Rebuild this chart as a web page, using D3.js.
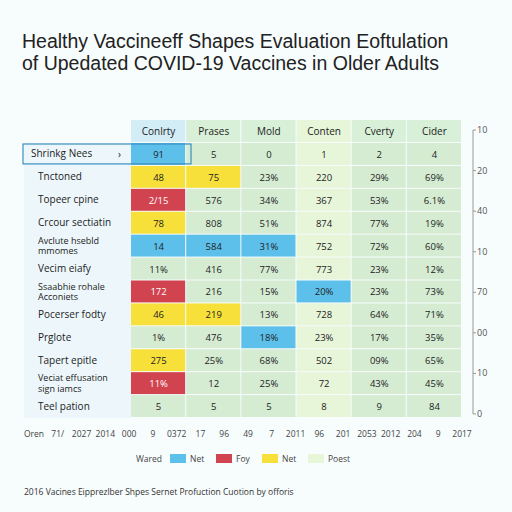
<!DOCTYPE html>
<html>
<head>
<meta charset="utf-8">
<style>
  body { margin: 0; background: #f7fcfd; }
  text { font-family: "Open Sans", "Noto Sans", sans-serif; fill: #222; }
</style>
</head>
<body>
<script src="https://d3js.org/d3.v7.min.js"></script>
<script>
// columns and rows as they appear in the picture
const columns = ["Conlrty", "Prases", "Mold", "Conten", "Cverty", "Cider"];
const rows = ["Shrinkg Nees", "Tnctoned", "Topeer cpine", "Crcour sectiatin", "Avclute hsebld|mmomes",
  "Vecim eiafy", "Ssaabhie rohale|Acconiets", "Pocerser fodty", "Prglote", "Tapert epitle",
  "Veciat effusation|sign iamcs", "Teel pation"];
const values = [
  ["91", "5", "0", "1", "2", "4"],
  ["48", "75", "23%", "220", "29%", "69%"],
  ["2/15", "576", "34%", "367", "53%", "6.1%"],
  ["78", "808", "51%", "874", "77%", "19%"],
  ["14", "584", "31%", "752", "72%", "60%"],
  ["11%", "416", "77%", "773", "23%", "12%"],
  ["172", "216", "15%", "20%", "23%", "73%"],
  ["46", "219", "13%", "728", "64%", "71%"],
  ["1%", "476", "18%", "23%", "17%", "35%"],
  ["275", "25%", "68%", "502", "09%", "65%"],
  ["11%", "12", "25%", "72", "43%", "45%"],
  ["5", "5", "5", "8", "9", "84"]
];
// highlight category per cell: b blue, r red, y yellow, g plain
const highlights = [
  "bggggg", "yygggg", "rggggg", "yggggg", "bbbggg", "gggggg",
  "rggbgg", "yygggg", "ggbggg", "yggggg", "rggggg", "gggggg"
];
const rightTicks = ["10", "20", "40", "10", "70", "00", "10", "0"];
const bottomLabels = ["Oren", "71/", "2027", "2014", "000", "9", "0372", "17", "96", "49", "7",
  "2011", "96", "201", "2053", "2012", "204", "9", "2017"];
const legendItems = [["b", "Net"], ["r", "Foy"], ["y", "Net"], ["l", "Poest"]];

const colors = { b: "#5cc0ea", r: "#d1434f", y: "#f8e03b", g: "#d5ecd3", l: "#e7f5d9" };

const svg = d3.select("body").append("svg").attr("width", 512).attr("height", 512);

svg.append("text").attr("x", 22).attr("y", 48).attr("font-size", 19.5)
  .style("font-family", "'Liberation Sans', Arial, sans-serif")
  .text("Healthy Vaccineeff Shapes Evaluation Eoftulation");
svg.append("text").attr("x", 22).attr("y", 70).attr("font-size", 19.5)
  .style("font-family", "'Liberation Sans', Arial, sans-serif")
  .text("of Upedated COVID-19 Vaccines in Older Adults");

const x = d3.scaleBand().domain(columns).range([131, 462]);
const y = d3.scaleBand().domain(d3.range(rows.length)).range([143, 418]);

// label column background
svg.append("rect").attr("x", 24).attr("y", 143).attr("width", 107).attr("height", 275).attr("fill", "#edf7fb");

// header
svg.selectAll(".hd").data(columns).join("rect")
  .attr("x", d => x(d)).attr("y", 120).attr("width", x.bandwidth() - 1).attr("height", 22)
  .attr("fill", (d, i) => i === 0 ? "#d3edf7" : (i === 3 ? "#e7f5d9" : "#d8efd8"));
svg.selectAll(".ht").data(columns).join("text")
  .attr("x", d => x(d) + x.bandwidth() / 2).attr("y", 135).attr("text-anchor", "middle")
  .attr("font-size", 10).text(d => d);

// cells
rows.forEach((r, ri) => {
  columns.forEach((c, ci) => {
    const h = highlights[ri][ci];
    const fill = h === "g" ? (ci === 3 ? colors.l : colors.g) : colors[h];
    svg.append("rect").attr("x", x(c)).attr("y", y(ri)).attr("width", x.bandwidth() - 1)
      .attr("height", y.bandwidth() - 1).attr("fill", fill);
    svg.append("text").attr("x", x(c) + x.bandwidth() / 2).attr("y", y(ri) + y.bandwidth() / 2 + 3.5)
      .attr("text-anchor", "middle").attr("font-size", 9.5)
      .style("fill", h === "r" ? "#fff" : "#222").text(values[ri][ci]);
  });
  const parts = r.split("|");
  parts.forEach((p, pi) => {
    svg.append("text").attr("x", ri === 0 ? 31 : 38)
      .attr("y", y(ri) + y.bandwidth() / 2 + 3 + (pi - (parts.length - 1) / 2) * 10.5)
      .attr("font-size", parts.length > 1 ? 9 : 10).text(p);
  });
});
svg.append("text").attr("x", 118).attr("y", y(0) + y.bandwidth() / 2 + 3.5).attr("font-size", 10).text("›");
svg.append("rect").attr("x", 23).attr("y", y(0) + 1).attr("width", 168).attr("height", y.bandwidth() - 3)
  .attr("fill", "none").attr("stroke", "#3a8fc0").attr("stroke-width", 1.2);

// right axis
const ry = d3.scalePoint().domain(d3.range(rightTicks.length)).range([130, 414]);
svg.append("line").attr("x1", 473).attr("x2", 473).attr("y1", 130).attr("y2", 414).attr("stroke", "#999");
rightTicks.forEach((t, i) => {
  svg.append("line").attr("x1", 473).attr("x2", 476).attr("y1", ry(i)).attr("y2", ry(i)).attr("stroke", "#999");
  svg.append("text").attr("x", 477).attr("y", ry(i) + 3).attr("font-size", 9).style("fill", "#555").text(t);
});

// bottom labels
const bx = d3.scalePoint().domain(d3.range(bottomLabels.length)).range([34, 462]);
svg.selectAll(".bl").data(bottomLabels).join("text")
  .attr("x", (d, i) => bx(i)).attr("y", 437).attr("text-anchor", "middle")
  .attr("font-size", 8.5).style("fill", "#444").text(d => d);

// legend
svg.append("text").attr("x", 136).attr("y", 462).attr("font-size", 8.5).style("fill", "#444").text("Wared");
const lx = d3.scalePoint().domain(d3.range(legendItems.length)).range([170, 308]);
legendItems.forEach((d, i) => {
  svg.append("rect").attr("x", lx(i)).attr("y", 454).attr("width", 16).attr("height", 9).attr("fill", colors[d[0]]);
  svg.append("text").attr("x", lx(i) + 20).attr("y", 462).attr("font-size", 8.5).style("fill", "#444").text(d[1]);
});

svg.append("text").attr("x", 24).attr("y", 495).attr("font-size", 8.5).style("fill", "#333")
  .text("2016 Vacines Eipprezlber Shpes Sernet Profuction Cuotion by offoris");
</script>
</body>
</html>
